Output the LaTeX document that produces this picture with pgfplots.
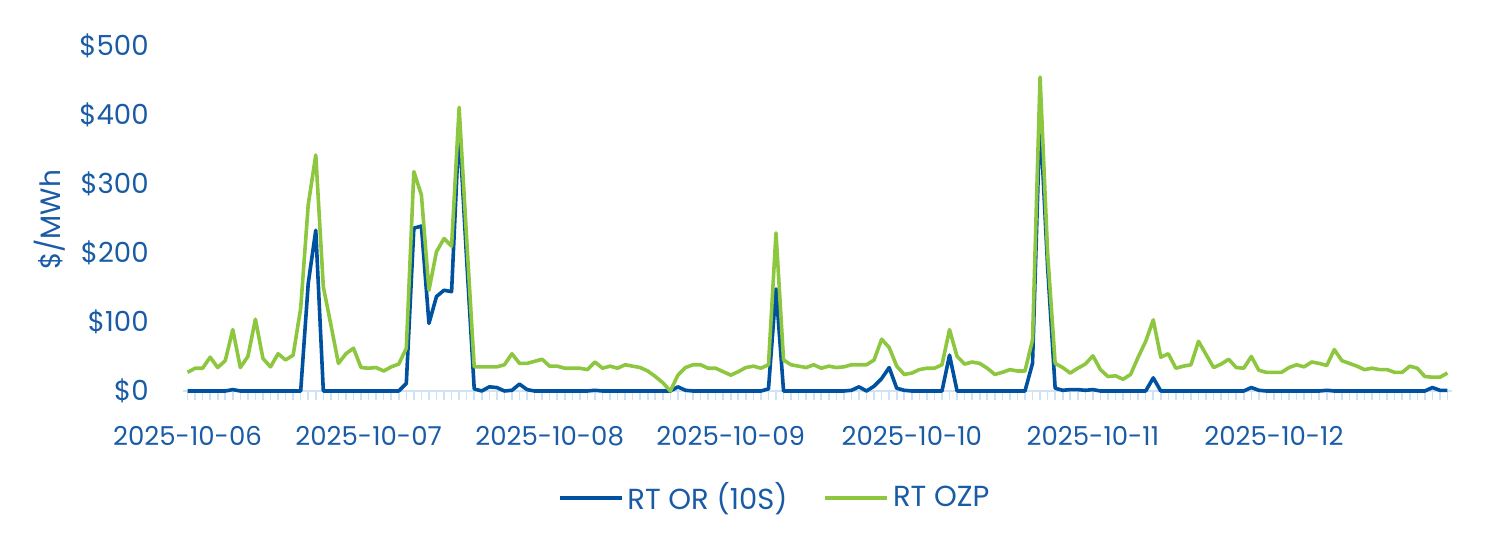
\documentclass[border=0pt]{standalone}
\usepackage{pgfplots}
\pgfplotsset{compat=1.18}
\usepackage{pgfplotstable}
\usepackage{fontspec}
\setmainfont{Poppins}
\definecolor{txtblue}{HTML}{1A5BA6}
\definecolor{orblue}{HTML}{0052A0}
\definecolor{ozgreen}{HTML}{8DC63F}
\definecolor{axblue}{HTML}{CFE3F7}

\pgfplotstableread{
i or ozp
0 0 27
1 0 33
2 0 33
3 0 49
4 0 34
5 0 44
6 2 89
7 0 34
8 0 50
9 0 104
10 0 47
11 0 35
12 0 54
13 0 45
14 0 52
15 0 120
16 156 270
17 233 342
18 0 151
19 0 96
20 0 40
21 0 54
22 0 62
23 0 34
24 0 33
25 0 34
26 0 29
27 0 35
28 0 39
29 11 62
30 236 318
31 239 284
32 98 146
33 137 202
34 146 221
35 144 210
36 385 411
37 190 220
38 3 35
39 0 35
40 6 35
41 5 35
42 0 38
43 1 54
44 10 40
45 2 40
46 0 43
47 0 46
48 0 36
49 0 36
50 0 33
51 0 33
52 0 33
53 0 31
54 1 42
55 0 33
56 0 36
57 0 33
58 0 38
59 0 36
60 0 34
61 0 29
62 0 21
63 0 12
64 0 0
65 6 23
66 1 34
67 0 38
68 0 38
69 0 33
70 0 33
71 0 28
72 0 23
73 0 28
74 0 34
75 0 36
76 0 33
77 3 38
78 148 229
79 0 45
80 0 38
81 0 36
82 0 34
83 0 38
84 0 33
85 0 36
86 0 34
87 0 35
88 1 38
89 6 38
90 0 38
91 7 45
92 18 75
93 34 63
94 4 36
95 1 24
96 0 26
97 0 31
98 0 33
99 0 33
100 0 38
101 52 89
102 0 50
103 0 39
104 0 42
105 0 40
106 0 33
107 0 24
108 0 27
109 0 31
110 0 29
111 0 29
112 40 74
113 400 455
114 180 200
115 4 40
116 1 34
117 2 26
118 2 33
119 1 39
120 2 51
121 0 31
122 0 21
123 0 22
124 0 17
125 0 24
126 0 49
127 0 72
128 19 103
129 0 49
130 0 54
131 0 33
132 0 36
133 0 38
134 0 72
135 0 53
136 0 34
137 0 39
138 0 46
139 0 34
140 0 33
141 5 50
142 1 30
143 0 27
144 0 27
145 0 27
146 0 34
147 0 38
148 0 35
149 0 42
150 0 40
151 1 37
152 0 60
153 0 44
154 0 40
155 0 36
156 0 31
157 0 33
158 0 31
159 0 31
160 0 27
161 0 27
162 0 36
163 0 33
164 0 21
165 5 20
166 1 20
167 1 26
}\datatable

\begin{document}
\begin{tikzpicture}
\begin{axis}[
  at={(0,0)}, anchor=south west,
  scale only axis,
  width=634.5pt, height=172.5pt,
  xmin=-0.6, xmax=167.6,
  ymin=0, ymax=500,
  axis x line*=bottom,
  axis y line*=left,
  y axis line style={draw=none},
  x axis line style={draw=axblue, line width=1pt},
  xtick={0,24,48,72,96,120,144},
  xticklabels={2025-10-06,2025-10-07,2025-10-08,2025-10-09,2025-10-10,2025-10-11,2025-10-12},
  minor xtick={0,1,...,167},
  xtick style={draw=axblue, line width=0.8pt},
  minor tick length=4.5pt,
  major tick length=4.5pt,
  tick align=outside,
  ytick={0,100,200,300,400,500},
  yticklabels={\$0,\$100,\$200,\$300,\$400,\$500},
  ytick style={draw=none},
  tick label style={font=\fontsize{13}{15}\selectfont, text=txtblue},
  yticklabel style={anchor=east, inner sep=0pt, xshift=-12.5pt, font=\fontsize{13.8}{15}\selectfont},
  xticklabel style={anchor=base, inner sep=0pt, yshift=-23pt},
  ylabel={\$/MWh},
  ylabel style={at={(axis description cs:-0.1048,0.496)}, anchor=center, font=\fontsize{14}{16}\selectfont, text=txtblue},
  legend columns=2,
  legend style={at={(axis description cs:0.467,-0.310)}, anchor=center, draw=none, fill=none,
    font=\fontsize{14.5}{16}\selectfont, text=txtblue,
    /tikz/every even column/.append style={column sep=16pt}},
  legend image code/.code={\draw[#1] (0pt,0pt) -- (31pt,0pt);},
  clip=false,
]
\addplot[orblue, line width=1.8pt, line join=round] table[x=i, y=or] {\datatable};
\addlegendentry{RT OR (10S)}
\addplot[ozgreen, line width=1.8pt, line join=round] table[x=i, y=ozp] {\datatable};
\addlegendentry{RT OZP}
\end{axis}
\pgfresetboundingbox
\useasboundingbox (-91.5pt,-82pt) rectangle (658.5pt,195.5pt);
\end{tikzpicture}
\end{document}
